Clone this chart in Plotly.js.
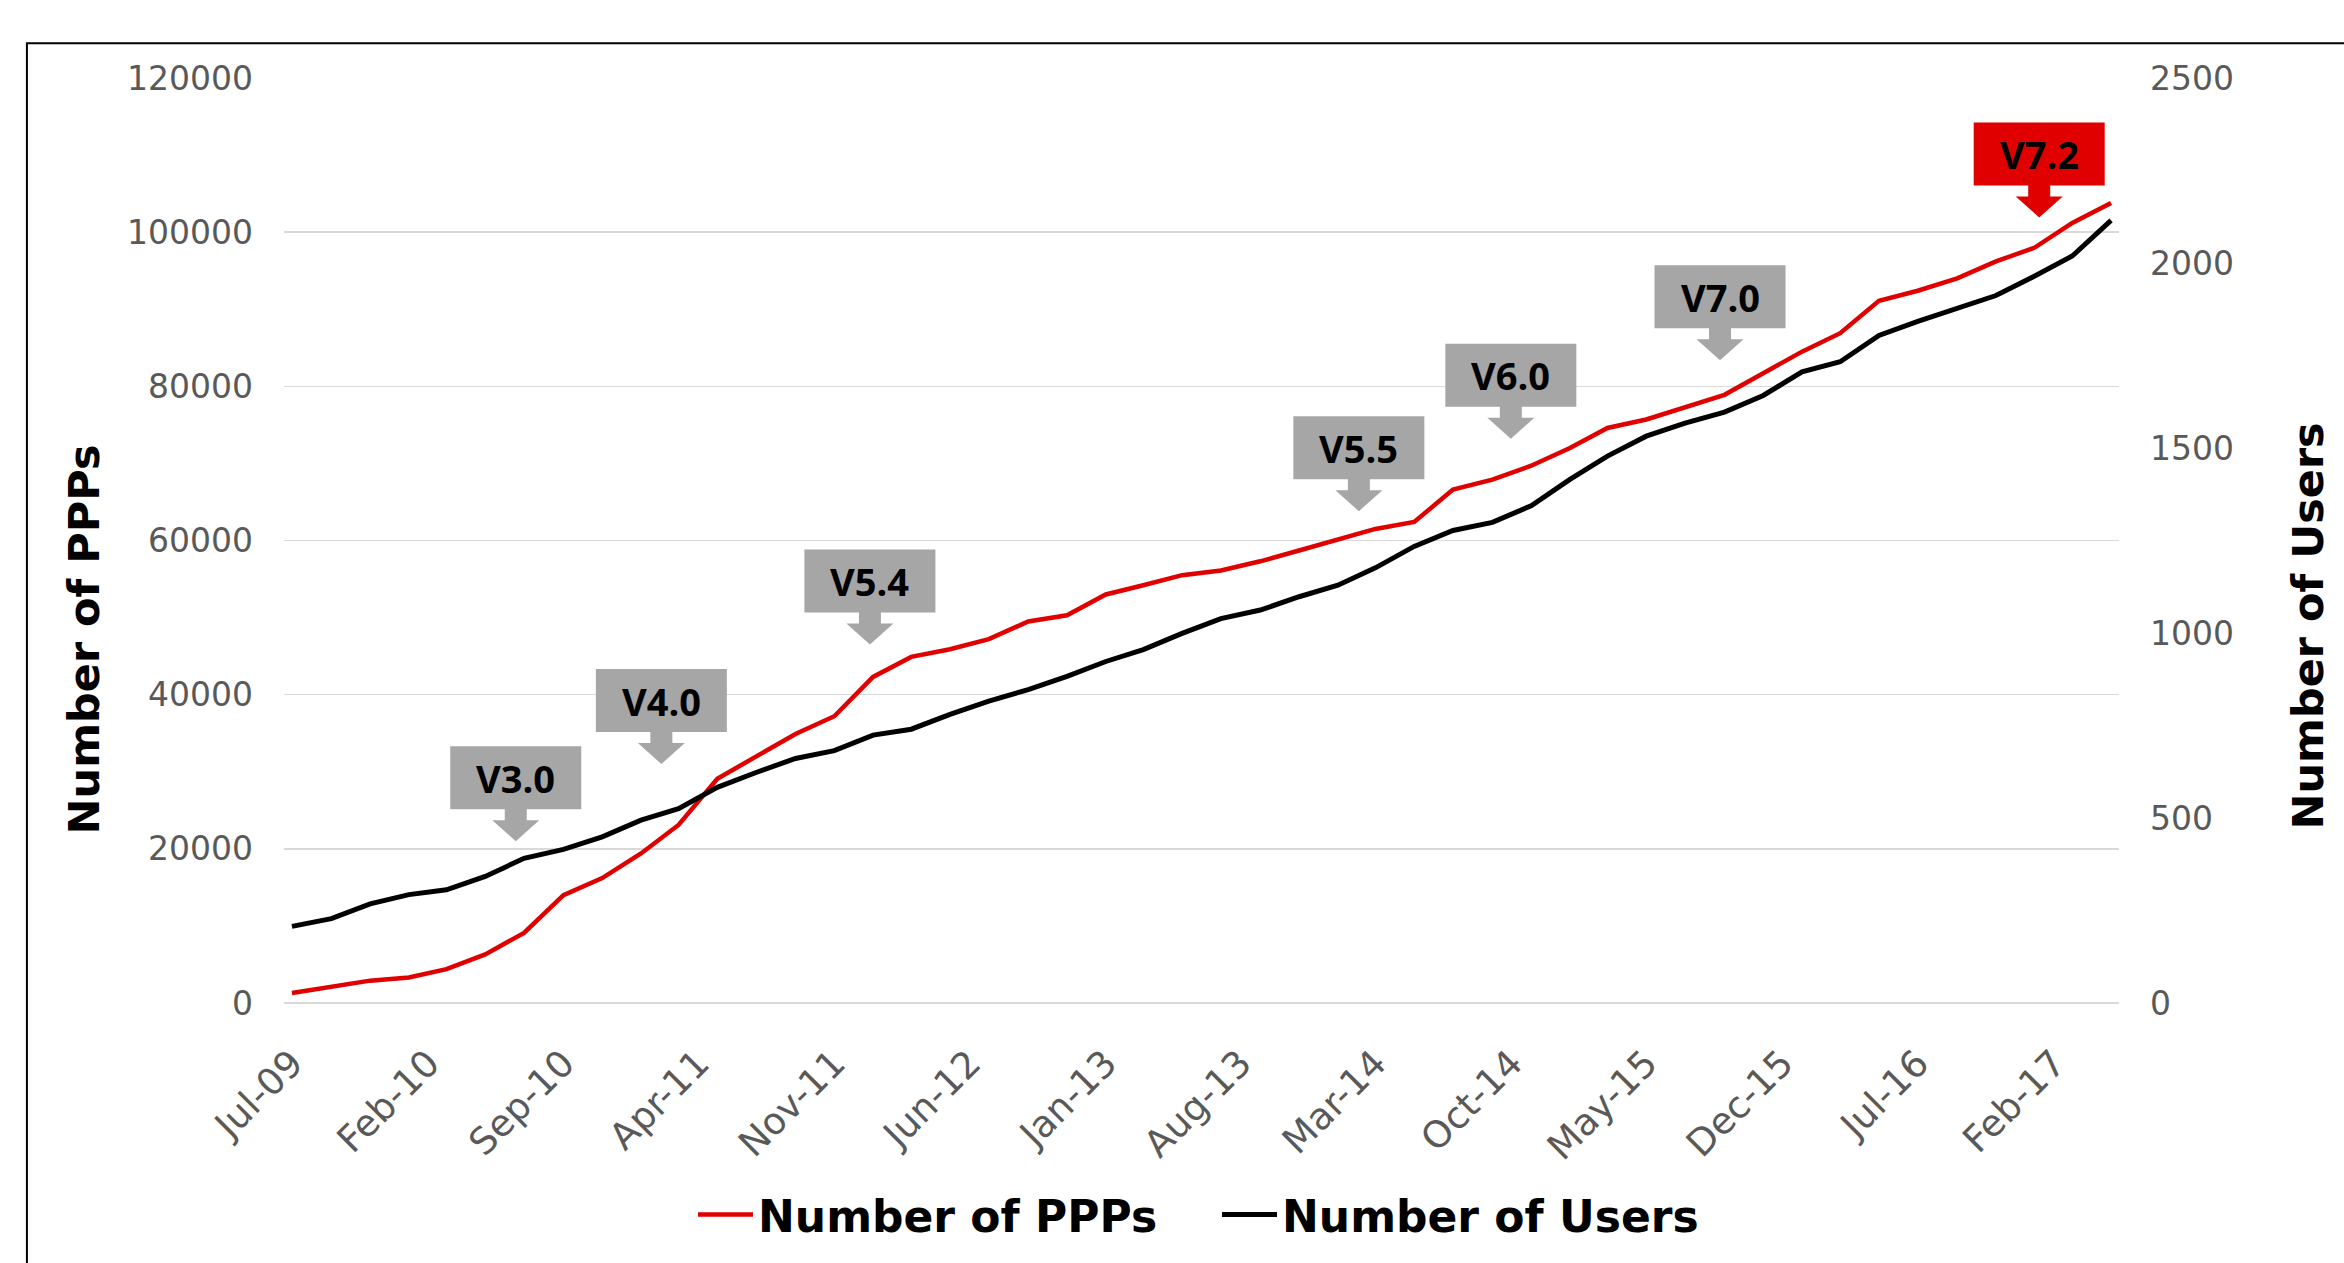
<!DOCTYPE html>
<html>
<head>
<meta charset="utf-8">
<script src="https://cdn.plot.ly/plotly-3.0.1.min.js"></script>
<style>
  html, body { margin: 0; padding: 0; background: #ffffff; }
  #chart { width: 2344px; height: 1263px; }
</style>
</head>
<body>
<div id="chart"></div>
<script>
// ---- Data (bimonthly) ----
const dates = ['2009-07-01','2009-09-01','2009-11-01','2010-01-01','2010-03-01','2010-05-01',
  '2010-07-01','2010-09-01','2010-11-01','2011-01-01','2011-03-01','2011-05-01',
  '2011-07-01','2011-09-01','2011-11-01','2012-01-01','2012-03-01','2012-05-01',
  '2012-07-01','2012-09-01','2012-11-01','2013-01-01','2013-03-01','2013-05-01',
  '2013-07-01','2013-09-01','2013-11-01','2014-01-01','2014-03-01','2014-05-01',
  '2014-07-01','2014-09-01','2014-11-01','2015-01-01','2015-03-01','2015-05-01',
  '2015-07-01','2015-09-01','2015-11-01','2016-01-01','2016-03-01','2016-05-01',
  '2016-07-01','2016-09-01','2016-11-01','2017-01-01','2017-03-01','2017-05-01'];

const numberOfPPPs = [1300,2100,2900,3300,4400,6300,9100,14000,16200,19400,23100,29100,
  31900,34900,37200,42300,44900,45900,47200,49500,50300,53000,54200,55500,
  56100,57300,58700,60200,61500,62400,66600,67900,69700,72000,74600,75700,
  77300,78900,81700,84500,86900,91100,92400,94000,96200,98000,101200,103800];

const numberOfUsers = [207,228,268,293,306,342,391,415,449,494,525,583,
  623,661,682,724,740,780,816,847,883,923,955,999,
  1039,1062,1098,1129,1176,1234,1277,1299,1344,1415,1478,1532,
  1567,1597,1642,1706,1733,1804,1842,1878,1912,1965,2019,2115];

const tickDates = ['2009-07-01','2010-02-01','2010-09-01','2011-04-01','2011-11-01','2012-06-01',
  '2013-01-01','2013-08-01','2014-03-01','2014-10-01','2015-05-01','2015-12-01',
  '2016-07-01','2017-02-01'];
const tickLabels = ['Jul-09','Feb-10','Sep-10','Apr-11','Nov-11','Jun-12','Jan-13','Aug-13',
  'Mar-14','Oct-14','May-15','Dec-15','Jul-16','Feb-17'];

// Release callouts (label, date pointed to, PPP-axis value at arrow tip)
const releaseLabels = ['V3.0','V4.0','V5.4','V5.5','V6.0','V7.0','V7.2'];
const releaseDates  = ['2010-06-18','2011-02-02','2011-12-27','2014-02-03','2014-09-30','2015-08-25','2017-01-08'];
const releaseTipY   = [21000,31000,46500,63800,73200,83400,101900];
const releaseColors = ['#A6A6A6','#A6A6A6','#A6A6A6','#A6A6A6','#A6A6A6','#A6A6A6','#E00000'];

// ---- Styles ----
const RED = '#E00000';
const TICK_COLOR = '#595959';
const GRID = '#D9D9D9';
const BOLD_FONT = 'DejaVu Sans, Verdana, sans-serif';

const traces = [
  { x: dates, y: numberOfPPPs, name: 'Number of PPPs', type: 'scatter', mode: 'lines',
    line: { color: RED, width: 4.5 }, yaxis: 'y' },
  { x: dates, y: numberOfUsers, name: 'Number of Users', type: 'scatter', mode: 'lines',
    line: { color: '#000000', width: 5 }, yaxis: 'y2' }
];

// callout: box + block arrow, sized in pixels, anchored at the arrow tip
const calloutPath = 'M0,0 L-23.5,21 L-11,21 L-11,32 L-65.5,32 L-65.5,95 L65.5,95 L65.5,32 L11,32 L11,21 L23.5,21 Z';

const shapes = [
  { type: 'rect', xref: 'paper', yref: 'paper', x0: -0.1401, x1: 1.3, y0: -0.4, y1: 1.0375,
    line: { color: '#000000', width: 2 }, fillcolor: 'rgba(0,0,0,0)', layer: 'below' }
];
const annotations = [];

releaseLabels.forEach((lab, i) => {
  shapes.push({
    type: 'path', xref: 'x', yref: 'y', xsizemode: 'pixel', ysizemode: 'pixel',
    xanchor: releaseDates[i], yanchor: releaseTipY[i], path: calloutPath,
    fillcolor: releaseColors[i], line: { width: 0, color: 'rgba(0,0,0,0)' }, layer: 'above'
  });
  annotations.push({
    x: releaseDates[i], y: releaseTipY[i], xref: 'x', yref: 'y', yshift: 63.5,
    text: lab, showarrow: false, xanchor: 'center', yanchor: 'middle',
    font: { family: 'Open Sans, Liberation Sans, sans-serif', size: 38, color: '#000000', weight: 'bold' }
  });
});

annotations.push({
  text: 'Number of PPPs', xref: 'paper', yref: 'paper', x: -0.109, y: 0.393,
  textangle: -90, showarrow: false, xanchor: 'center', yanchor: 'middle',
  font: { family: BOLD_FONT, size: 43, color: '#000000', weight: 'bold' }
});
annotations.push({
  text: 'Number of Users', xref: 'paper', yref: 'paper', x: 1.103, y: 0.407,
  textangle: -90, showarrow: false, xanchor: 'center', yanchor: 'middle',
  font: { family: BOLD_FONT, size: 43, color: '#000000', weight: 'bold' }
});

const layout = {
  width: 2344, height: 1263,
  margin: { l: 284, r: 225, t: 77.5, b: 254, pad: 0 },
  paper_bgcolor: '#ffffff', plot_bgcolor: '#ffffff',
  showlegend: true,
  legend: {
    orientation: 'h', x: 0.2229, xanchor: 'left', y: -0.229, yanchor: 'middle',
    font: { family: BOLD_FONT, size: 44, color: '#000000', weight: 'bold' },
    itemwidth: 55, entrywidth: 454, entrywidthmode: 'pixels', bgcolor: 'rgba(0,0,0,0)'
  },
  xaxis: {
    type: 'date', range: ['2009-06-18 12:00', '2017-05-13 12:00'],
    tickmode: 'array', tickvals: tickDates, ticktext: tickLabels,
    tickangle: -45, ticks: '', showgrid: false, zeroline: false, showline: false,
    ticklabelstandoff: 30,
    tickfont: { family: 'DejaVu Sans, sans-serif', size: 37, color: TICK_COLOR }
  },
  yaxis: {
    range: [0, 120000], dtick: 20000, tick0: 0, ticks: '', tickformat: 'd',
    showgrid: true, gridcolor: GRID, gridwidth: 1.5,
    zeroline: true, zerolinecolor: GRID, zerolinewidth: 1.5, showline: false,
    ticklabelstandoff: 30,
    tickfont: { family: 'DejaVu Sans, sans-serif', size: 33, color: TICK_COLOR }
  },
  yaxis2: {
    overlaying: 'y', side: 'right', range: [0, 2500], dtick: 500, tick0: 0, ticks: '', tickformat: 'd',
    showgrid: false, zeroline: false, showline: false,
    ticklabelstandoff: 30,
    tickfont: { family: 'DejaVu Sans, sans-serif', size: 33, color: TICK_COLOR }
  },
  shapes: shapes,
  annotations: annotations
};

Plotly.newPlot('chart', traces, layout, { displayModeBar: false, staticPlot: true });
</script>
</body>
</html>
